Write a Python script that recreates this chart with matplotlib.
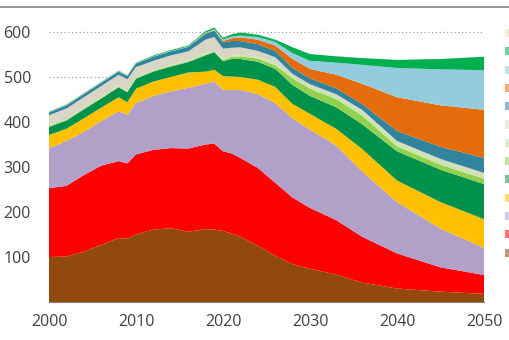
import numpy as np
import matplotlib
matplotlib.use("Agg")
import matplotlib.pyplot as plt
from matplotlib.patches import Rectangle
from matplotlib.lines import Line2D

# years
years = [2000, 2002, 2004, 2006, 2008, 2009, 2010, 2012, 2014, 2016, 2018, 2019,
         2020, 2021, 2022, 2024, 2026, 2028, 2030, 2033, 2036, 2040, 2045, 2050]

# upper edge of each band (cumulative), bottom band first
brown_top  = [100, 101, 112, 127, 142, 141, 150, 161, 164, 156, 162, 161, 158, 152, 145, 125, 103,  84,  74,  61,  43,  30,  23,  18]
red_top    = [253, 258, 282, 303, 313, 308, 328, 338, 342, 341, 350, 352, 335, 330, 320, 298, 265, 232, 209, 182, 145, 108,  77,  60]
lav_top    = [342, 358, 378, 402, 424, 416, 442, 458, 468, 476, 485, 490, 471, 471, 471, 462, 442, 408, 383, 348, 290, 222, 163, 120]
yellow_top = [371, 385, 408, 432, 455, 444, 474, 490, 500, 510, 512, 516, 502, 501, 500, 494, 478, 440, 418, 385, 340, 270, 222, 184]
dkgreen_top= [389, 403, 428, 452, 477, 466, 496, 512, 523, 533, 548, 555, 535, 540, 540, 534, 518, 482, 458, 433, 395, 335, 294, 262]
lime_top   = [391, 405, 430, 454, 479, 468, 498, 514, 525, 535, 550, 557, 538, 545, 546, 541, 526, 497, 474, 451, 414, 346, 305, 274]
pale_top   = [392, 406, 431, 455, 480, 469, 499, 515, 526, 536, 551, 558, 540, 547, 549, 545, 531, 502, 479, 457, 422, 354, 313, 282]
beige_top  = [415, 430, 455, 480, 505, 495, 522, 536, 548, 557, 583, 589, 563, 565, 566, 558, 544, 507, 484, 462, 427, 358, 318, 287]
teal_top   = [421, 437, 462, 487, 512, 502, 530, 545, 557, 567, 596, 603, 577, 580, 580, 573, 558, 520, 497, 475, 440, 380, 345, 320]
orange_top = [421, 437, 462, 487, 512, 502, 530, 545, 557, 567, 597, 604, 580, 586, 588, 583, 570, 540, 518, 505, 485, 455, 437, 427]
lblue_top  = [422, 438, 463, 488, 513, 503, 531, 546, 558, 568, 599, 606, 583, 590, 592, 589, 578, 553, 536, 532, 527, 520, 517, 515]
green_top  = [423, 439, 464, 489, 514, 504, 532, 548, 560, 570, 602, 610, 587, 595, 599, 594, 583, 566, 551, 546, 542, 538, 540, 545]
total_top  = [424, 440, 465, 490, 515, 505, 533, 549, 561, 571, 603, 611, 588, 596, 600, 594, 583, 566, 551, 546, 542, 538, 540, 545]

colors = ["#924a0c", "#ff0000", "#b1a1c9", "#ffc000", "#00914a", "#92d050",
          "#c6e7a6", "#d9d6c6", "#31849b", "#e46c0a", "#93cddd", "#00b050", "#ecdcb8"]

yticks = [100, 200, 300, 400, 500, 600]
xticks = [2000, 2010, 2020, 2030, 2040, 2050]


def GetBands():
    tops = np.array([brown_top, red_top, lav_top, yellow_top, dkgreen_top, lime_top,
                     pale_top, beige_top, teal_top, orange_top, lblue_top, green_top, total_top])
    return np.diff(tops, axis=0, prepend=0)


def CreateGraphic():
    fig = plt.figure(figsize=(5.1, 3.4), dpi=100)
    ax = fig.add_axes([49 / 510, 38 / 340, 435 / 510, 288 / 340])
    ax.stackplot(years, GetBands(), colors=colors, linewidth=0, zorder=2)
    ax.set_xlim(2000, 2050)
    ax.set_ylim(0, 640)
    ax.set_xticks(xticks)
    ax.set_yticks(yticks)
    ax.yaxis.grid(True, linestyle=(0, (1, 2)), color="#a0a0a0", linewidth=0.9, zorder=0)
    ax.set_axisbelow(True)
    for side in ["top", "right", "left"]:
        ax.spines[side].set_visible(False)
    ax.spines["bottom"].set_color("#7f7f7f")
    ax.spines["bottom"].set_zorder(3)
    ax.tick_params(length=0, labelsize=11.5, labelcolor="#404040")
    ax.tick_params(axis="y", pad=13)
    ax.tick_params(axis="x", pad=9)
    for lab in ax.get_xticklabels() + ax.get_yticklabels():
        lab.set_fontfamily("Open Sans")

    # frame line at the top of the slide
    fig.add_artist(Line2D([0, 1], [333 / 340, 333 / 340], color="#9a9a9a", linewidth=1.5))

    # legend keys, cut off at the right edge
    for i, c in enumerate(colors[::-1]):
        y = (340 - 33 - 18.3 * i - 4) / 340
        fig.add_artist(Rectangle((505 / 510, y), 6 / 510, 8 / 340, color=c, alpha=0.55,
                                 linewidth=0, transform=fig.transFigure))

    fig.savefig("out.png", dpi=100)


if __name__ == '__main__':
    CreateGraphic()
